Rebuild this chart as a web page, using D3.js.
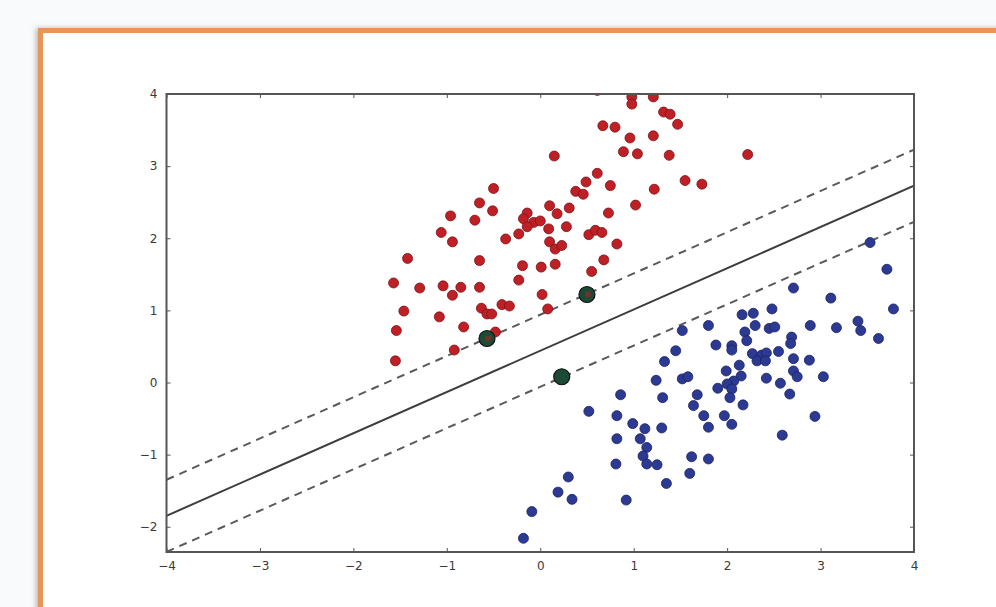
<!DOCTYPE html>
<html><head><meta charset="utf-8">
<script src="https://cdn.jsdelivr.net/npm/d3@7"></script>
<style>html,body{margin:0;padding:0;background:#f8fafc;overflow:hidden}</style>
</head><body>
<svg id="c" width="996" height="607"></svg>
<script>
// ---- data ----
const redX = [0.15,-0.50,0.38,-0.65,-0.51,-0.96,-0.70,0.10,0.31,0.18,-0.14,-0.18,-0.07,0.00,0.09,-0.14,-0.23,0.28,-1.06,-0.94,-0.37,0.10,0.16,0.23,-1.42,-0.65,-0.19,0.01,0.16,-1.57,-1.29,-1.04,-0.85,-0.65,-0.23,-0.94,0.02,-1.46,-1.08,-0.63,-0.57,-0.52,-0.41,-0.33,0.08,-1.54,-0.82,-0.48,-0.92,-1.55,
  0.61,0.98,0.98,1.21,1.32,1.39,1.47,0.67,0.80,0.96,1.21,0.89,1.04,1.38,2.22,0.61,0.49,0.75,1.55,1.73,1.22,0.46,1.02,0.73,0.52,0.59,0.66,0.82,0.68,0.55];
const redY = [3.14,2.69,2.65,2.49,2.38,2.31,2.25,2.45,2.42,2.34,2.35,2.27,2.22,2.24,2.13,2.16,2.06,2.16,2.08,1.95,1.99,1.95,1.85,1.90,1.72,1.69,1.62,1.60,1.64,1.38,1.31,1.34,1.32,1.32,1.42,1.21,1.22,0.99,0.91,1.03,0.95,0.95,1.08,1.06,1.02,0.72,0.77,0.70,0.45,0.30,
  4.05,3.96,3.86,3.96,3.75,3.72,3.58,3.56,3.54,3.39,3.42,3.20,3.17,3.15,3.16,2.90,2.78,2.73,2.80,2.75,2.68,2.61,2.46,2.35,2.05,2.11,2.08,1.92,1.70,1.54];
const blueX = [1.52,1.80,1.45,1.33,1.24,1.52,1.58,0.86,1.31,1.68,1.64,1.75,0.52,0.82,0.99,1.12,1.30,1.80,0.82,1.07,1.14,1.10,1.14,1.25,0.81,1.62,1.60,1.80,1.35,0.30,0.19,0.34,0.92,-0.09,-0.18,
  3.53,3.71,3.78,2.71,3.11,2.48,2.16,2.28,2.30,2.45,2.51,2.89,3.17,3.40,3.43,3.62,2.19,2.21,1.88,2.05,2.05,2.69,2.68,2.27,2.37,2.42,2.55,2.32,2.41,2.71,2.88,2.13,1.99,2.15,2.07,2.00,1.90,2.05,2.03,2.17,2.42,2.57,2.71,2.75,3.03,2.67,2.94,2.59,1.97,2.05];
const blueY = [0.72,0.79,0.44,0.29,0.03,0.05,0.08,-0.17,-0.21,-0.17,-0.32,-0.46,-0.40,-0.46,-0.57,-0.64,-0.63,-0.62,-0.78,-0.78,-0.90,-1.02,-1.13,-1.14,-1.13,-1.03,-1.26,-1.06,-1.40,-1.31,-1.52,-1.62,-1.63,-1.79,-2.16,
  1.94,1.57,1.02,1.31,1.17,1.02,0.94,0.96,0.79,0.75,0.77,0.79,0.76,0.85,0.72,0.61,0.70,0.58,0.52,0.51,0.45,0.63,0.54,0.40,0.38,0.41,0.43,0.30,0.30,0.33,0.31,0.24,0.16,0.09,0.02,-0.02,-0.08,-0.09,-0.21,-0.31,0.06,-0.01,0.16,0.08,0.08,-0.16,-0.47,-0.73,-0.46,-0.58];
const svX = [-0.57, 0.50, 0.23];
const svY = [0.61, 1.22, 0.08];
const boundaryX = [-4, 4];
const boundarySlope = 0.572, boundaryIntercept = 0.44, margin = 0.5;
const xTicks = [-4,-3,-2,-1,0,1,2,3,4];
const yTicks = [-2,-1,0,1,2,3,4];

// ---- drawing ----
const svg = d3.select('#c');
const defs = svg.append('defs');
const sh = defs.append('filter').attr('id','sh').attr('x','-5%').attr('y','-5%').attr('width','110%').attr('height','110%');
sh.append('feDropShadow').attr('dx',-2).attr('dy',0).attr('stdDeviation',2.5).attr('flood-color','#888').attr('flood-opacity',0.6);

svg.append('rect').attr('x',40.5).attr('y',30.5).attr('width',1000).attr('height',620)
  .attr('fill','#ffffff').attr('stroke','#e8955a').attr('stroke-width',5).attr('filter','url(#sh)');

const L = 166.5, R = 914, T = 94, B = 552;
const x = d3.scaleLinear().domain([-4,4]).range([L,R]);
const y = d3.scaleLinear().domain([-2.35,4]).range([B,T]);

defs.append('clipPath').attr('id','clip').append('rect').attr('x',L).attr('y',T).attr('width',R-L).attr('height',B-T);

const g = svg.append('g');
const plot = g.append('g').attr('clip-path','url(#clip)');

// lines
const lineGen = d3.line().x(d=>x(d[0])).y(d=>y(d[1]));
[[0,'none'],[margin,'8,6'],[-margin,'8,6']].forEach(([off,dash])=>{
  const pts = boundaryX.map(v=>[v, boundarySlope*v + boundaryIntercept + off]);
  plot.append('path').attr('d',lineGen(pts)).attr('fill','none')
    .attr('stroke', off===0 ? '#3d3d3d' : '#5a5a5a').attr('stroke-width',2)
    .attr('stroke-dasharray',dash);
});

// points
const red = redX.map((v,i)=>[v,redY[i]]);
const blue = blueX.map((v,i)=>[v,blueY[i]]);
plot.selectAll('.r').data(red).join('circle').attr('cx',d=>x(d[0])).attr('cy',d=>y(d[1])).attr('r',5)
  .attr('fill','#c01f26').attr('stroke','#7a1416').attr('stroke-width',0.8);
plot.selectAll('.b').data(blue).join('circle').attr('cx',d=>x(d[0])).attr('cy',d=>y(d[1])).attr('r',5)
  .attr('fill','#2c3a94').attr('stroke','#1a2260').attr('stroke-width',0.8);
const sv = svX.map((v,i)=>[v,svY[i]]);
plot.selectAll('.s').data(sv).join('circle').attr('cx',d=>x(d[0])).attr('cy',d=>y(d[1])).attr('r',8)
  .attr('fill','#1d4a36').attr('stroke','#111').attr('stroke-width',1.2);
plot.selectAll('.sr').data(sv.slice(0,2)).join('circle').attr('cx',d=>x(d[0])+1).attr('cy',d=>y(d[1])).attr('r',3)
  .attr('fill','#8a2a22').attr('opacity',0.8);

// axes
const fmt = d => (d<0 ? '\u2212' + Math.abs(d) : String(d));
const axStyle = sel => {
  sel.select('.domain').remove();
  sel.selectAll('.tick line').attr('stroke','#555').attr('stroke-width',1);
  sel.selectAll('.tick text').attr('fill','#3a3a3a').attr('font-family','DejaVu Sans, sans-serif').attr('font-size',12);
};
g.append('g').attr('transform',`translate(0,${B})`).call(d3.axisBottom(x).tickValues(xTicks).tickSize(-4).tickPadding(9).tickFormat(fmt)).call(axStyle);
g.append('g').attr('transform',`translate(0,${T})`).call(d3.axisTop(x).tickValues(xTicks).tickSize(-4).tickFormat('')).call(axStyle);
g.append('g').attr('transform',`translate(${L},0)`).call(d3.axisLeft(y).tickValues(yTicks).tickSize(-4).tickPadding(9).tickFormat(fmt)).call(axStyle);
g.append('g').attr('transform',`translate(${R},0)`).call(d3.axisRight(y).tickValues(yTicks).tickSize(-4).tickFormat('')).call(axStyle);

g.append('rect').attr('x',L).attr('y',T).attr('width',R-L).attr('height',B-T)
  .attr('fill','none').attr('stroke','#555').attr('stroke-width',2);
</script>
</body></html>
